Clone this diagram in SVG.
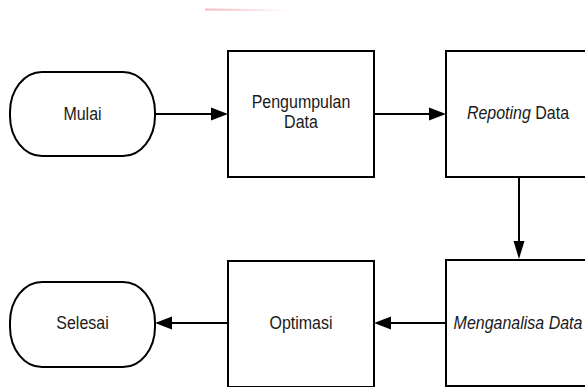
<svg xmlns="http://www.w3.org/2000/svg" width="585" height="387" viewBox="0 0 585 387">
<defs>
<linearGradient id="pink" x1="0" y1="0" x2="1" y2="0">
<stop offset="0" stop-color="#f7b8c0"/>
<stop offset="1" stop-color="#f7b8c0" stop-opacity="0"/>
</linearGradient>
<style>
.shape{fill:#fff;stroke:#000;stroke-width:2}
.edge{fill:none;stroke:#000;stroke-width:2}
.head{fill:#000;stroke:none}
.lbl{font-family:"Liberation Sans",Arial,sans-serif;font-size:16px;fill:#1a1a1a;text-anchor:middle}
.it{font-style:italic}
</style>
</defs>
<rect width="585" height="387" fill="#fff"/>
<line x1="205" y1="9.5" x2="290" y2="10.5" stroke="url(#pink)" stroke-width="2"/>
<g id="connectors">
<line class="edge" x1="155" y1="114" x2="212" y2="114"/>
<polygon class="head" points="228,114 211,107.5 211,120.5"/>
<line class="edge" x1="374" y1="114" x2="430" y2="114"/>
<polygon class="head" points="446,114 429,107.5 429,120.5"/>
<line class="edge" x1="519" y1="177" x2="519" y2="242"/>
<polygon class="head" points="519,259 513.5,241 524.5,241"/>
<line class="edge" x1="446" y1="323" x2="390" y2="323"/>
<polygon class="head" points="374,323 391,316.5 391,329.5"/>
<line class="edge" x1="228" y1="323" x2="171" y2="323"/>
<polygon class="head" points="155,323 172,316.5 172,329.5"/>
</g>
<g id="mulai">
<rect class="shape" x="10" y="72" width="145" height="84" rx="32" ry="40"/>
<text class="lbl" transform="translate(82.5,120) scale(1,1.12)">Mulai</text>
</g>
<g id="pengumpulan">
<rect class="shape" x="228" y="51" width="146" height="126"/>
<text class="lbl" transform="translate(301,108) scale(1,1.12)">Pengumpulan</text>
<text class="lbl" transform="translate(301,128) scale(1,1.12)">Data</text>
</g>
<g id="repoting">
<rect class="shape" x="446" y="51" width="146" height="126"/>
<text class="lbl" transform="translate(518,119) scale(1,1.12)"><tspan class="it">Repoting</tspan> Data</text>
</g>
<g id="menganalisa">
<rect class="shape" x="446" y="260" width="146" height="126"/>
<text class="lbl it" transform="translate(518,329) scale(1,1.12)">Menganalisa Data</text>
</g>
<g id="optimasi">
<rect class="shape" x="228" y="261" width="146" height="126"/>
<text class="lbl" transform="translate(301,329) scale(1,1.12)">Optimasi</text>
</g>
<g id="selesai">
<rect class="shape" x="10" y="282" width="145" height="85" rx="32" ry="40"/>
<text class="lbl" transform="translate(82.5,329) scale(1,1.12)">Selesai</text>
</g>
</svg>
